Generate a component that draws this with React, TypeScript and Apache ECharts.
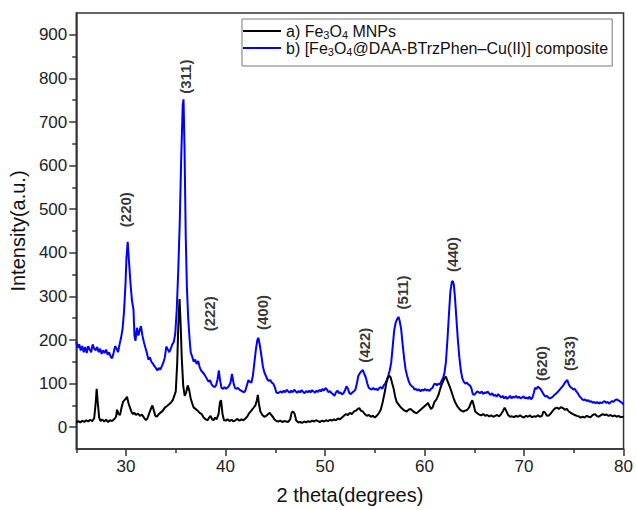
import React, { useEffect, useRef } from "react";
import * as echarts from "echarts";

const SERIES_A = "a) Fe3O4 MNPs";
const SERIES_B = "b) [Fe3O4@DAA-BTrzPhen–Cu(II)] composite";

const fe3o4: number[][] = [
  [25.0, 10], [25.2, 14], [25.4, 11], [25.6, 15], [25.8, 12], [26.0, 16], [26.2, 13], [26.4, 17], [26.6, 14], [26.8, 20],
  [26.95, 55], [27.05, 88], [27.15, 60], [27.3, 22], [27.45, 14], [27.6, 18], [27.8, 13], [28.0, 17], [28.2, 12], [28.4, 16],
  [28.6, 14], [28.8, 18], [29.0, 24], [29.1, 40], [29.25, 30], [29.4, 28], [29.55, 45], [29.7, 58], [29.85, 62], [30.0, 66],
  [30.1, 70], [30.25, 55], [30.4, 45], [30.55, 35], [30.7, 30], [30.85, 33], [31.0, 28], [31.2, 31], [31.4, 26], [31.6, 29],
  [31.8, 22], [32.0, 16], [32.15, 20], [32.3, 30], [32.5, 42], [32.65, 50], [32.8, 38], [32.95, 26], [33.1, 24], [33.3, 30],
  [33.5, 34], [33.7, 38], [33.9, 45], [34.1, 48], [34.3, 52], [34.5, 56], [34.7, 62], [34.85, 72], [35.0, 82], [35.15, 150],
  [35.25, 230], [35.38, 294], [35.5, 230], [35.6, 160], [35.75, 95], [35.9, 72], [36.05, 80], [36.2, 96], [36.35, 85], [36.5, 66],
  [36.65, 55], [36.8, 45], [37.0, 42], [37.2, 38], [37.4, 33], [37.6, 30], [37.8, 22], [38.0, 18], [38.2, 16], [38.35, 22],
  [38.5, 26], [38.65, 18], [38.8, 16], [38.95, 22], [39.1, 18], [39.3, 30], [39.45, 58], [39.55, 62], [39.7, 30], [39.85, 16],
  [40.0, 15], [40.2, 18], [40.4, 14], [40.6, 17], [40.8, 13], [41.0, 16], [41.2, 19], [41.4, 15], [41.6, 18], [41.8, 16],
  [42.0, 20], [42.2, 25], [42.4, 33], [42.6, 38], [42.8, 44], [43.0, 50], [43.15, 62], [43.25, 74], [43.35, 55], [43.5, 36],
  [43.7, 28], [43.9, 24], [44.1, 26], [44.3, 30], [44.45, 33], [44.6, 28], [44.75, 24], [44.9, 18], [45.1, 14], [45.3, 13],
  [45.5, 15], [45.7, 12], [45.9, 14], [46.1, 13], [46.3, 12], [46.5, 18], [46.65, 34], [46.8, 36], [46.95, 30], [47.1, 16],
  [47.3, 11], [47.5, 12], [47.7, 10], [47.9, 13], [48.1, 11], [48.3, 14], [48.5, 12], [48.7, 15], [48.9, 13], [49.1, 16],
  [49.3, 14], [49.5, 12], [49.7, 15], [49.9, 13], [50.1, 16], [50.3, 14], [50.5, 17], [50.7, 15], [50.9, 18], [51.1, 16],
  [51.3, 20], [51.5, 18], [51.7, 22], [51.9, 26], [52.1, 30], [52.3, 28], [52.5, 33], [52.7, 30], [52.9, 36], [53.1, 38],
  [53.3, 42], [53.45, 44], [53.6, 38], [53.8, 36], [54.0, 30], [54.2, 26], [54.4, 28], [54.6, 24], [54.8, 26], [55.0, 22],
  [55.2, 26], [55.4, 32], [55.6, 40], [55.8, 58], [56.0, 80], [56.15, 100], [56.3, 112], [56.45, 118], [56.6, 114], [56.75, 100],
  [56.9, 88], [57.05, 70], [57.2, 58], [57.4, 52], [57.6, 46], [57.8, 42], [58.0, 38], [58.2, 36], [58.4, 40], [58.6, 42],
  [58.8, 38], [59.0, 34], [59.2, 32], [59.4, 36], [59.6, 40], [59.8, 44], [60.0, 48], [60.2, 52], [60.35, 56], [60.5, 48],
  [60.65, 42], [60.8, 45], [61.0, 58], [61.2, 64], [61.4, 74], [61.6, 90], [61.8, 102], [62.0, 112], [62.15, 116], [62.3, 106],
  [62.5, 95], [62.7, 82], [62.9, 68], [63.1, 56], [63.3, 48], [63.5, 42], [63.7, 38], [63.9, 36], [64.1, 38], [64.3, 40],
  [64.5, 46], [64.65, 55], [64.8, 62], [64.95, 50], [65.1, 36], [65.3, 32], [65.5, 29], [65.7, 27], [65.9, 30], [66.1, 26],
  [66.3, 28], [66.5, 25], [66.7, 27], [66.9, 24], [67.1, 26], [67.3, 28], [67.5, 25], [67.7, 30], [67.9, 38], [68.05, 45],
  [68.2, 38], [68.4, 28], [68.6, 24], [68.8, 25], [69.0, 23], [69.2, 26], [69.4, 24], [69.6, 27], [69.8, 24], [70.0, 22],
  [70.2, 26], [70.4, 24], [70.6, 27], [70.8, 23], [71.0, 25], [71.2, 24], [71.4, 27], [71.6, 24], [71.8, 26], [71.95, 36],
  [72.1, 34], [72.3, 26], [72.5, 27], [72.7, 32], [72.9, 38], [73.1, 43], [73.3, 45], [73.5, 42], [73.7, 46], [73.9, 44],
  [74.1, 40], [74.3, 42], [74.5, 36], [74.7, 33], [74.9, 30], [75.1, 28], [75.3, 26], [75.5, 25], [75.7, 22], [75.9, 24],
  [76.1, 22], [76.3, 26], [76.5, 24], [76.7, 23], [76.9, 28], [77.1, 30], [77.3, 26], [77.5, 24], [77.7, 27], [77.9, 30],
  [78.1, 28], [78.3, 29], [78.5, 26], [78.7, 28], [78.9, 25], [79.1, 27], [79.3, 24], [79.5, 26], [79.7, 23], [80.0, 24],
];

const composite: number[][] = [
  [25.0, 196], [25.15, 182], [25.3, 190], [25.45, 176], [25.6, 186], [25.75, 172], [25.9, 184], [26.05, 170], [26.2, 186], [26.35, 178],
  [26.5, 172], [26.65, 190], [26.8, 180], [26.95, 176], [27.1, 184], [27.25, 172], [27.4, 180], [27.55, 168], [27.7, 176], [27.85, 170],
  [28.0, 178], [28.15, 166], [28.3, 172], [28.45, 162], [28.6, 158], [28.75, 170], [28.9, 186], [29.05, 180], [29.2, 172], [29.35, 190],
  [29.5, 205], [29.65, 225], [29.8, 265], [29.95, 330], [30.05, 390], [30.17, 425], [30.3, 380], [30.45, 330], [30.6, 290], [30.75, 270],
  [30.85, 210], [30.95, 198], [31.1, 228], [31.25, 210], [31.4, 225], [31.5, 232], [31.65, 210], [31.8, 195], [31.95, 182], [32.1, 170],
  [32.25, 155], [32.4, 160], [32.55, 150], [32.7, 146], [32.85, 140], [33.0, 136], [33.15, 130], [33.3, 136], [33.45, 132], [33.6, 140],
  [33.75, 148], [33.9, 160], [34.05, 185], [34.2, 178], [34.35, 172], [34.5, 180], [34.65, 190], [34.8, 195], [34.95, 215], [35.1, 270],
  [35.25, 360], [35.4, 470], [35.55, 620], [35.7, 740], [35.78, 752], [35.88, 640], [36.0, 440], [36.12, 320], [36.25, 250], [36.38, 205],
  [36.5, 172], [36.65, 162], [36.8, 150], [36.95, 155], [37.1, 145], [37.25, 152], [37.4, 138], [37.55, 130], [37.7, 126], [37.85, 122],
  [38.0, 116], [38.15, 110], [38.3, 104], [38.45, 108], [38.6, 98], [38.75, 94], [38.9, 92], [39.05, 96], [39.2, 110], [39.33, 130],
  [39.45, 108], [39.6, 90], [39.75, 88], [39.9, 92], [40.05, 88], [40.2, 91], [40.35, 95], [40.5, 102], [40.65, 122], [40.8, 102],
  [40.95, 90], [41.1, 88], [41.25, 90], [41.4, 86], [41.55, 84], [41.7, 82], [41.85, 80], [42.0, 84], [42.15, 96], [42.3, 108],
  [42.45, 104], [42.6, 102], [42.75, 118], [42.9, 148], [43.05, 178], [43.2, 200], [43.3, 205], [43.45, 188], [43.6, 165], [43.75, 140],
  [43.9, 126], [44.05, 118], [44.2, 110], [44.35, 106], [44.5, 108], [44.65, 102], [44.8, 100], [44.95, 92], [45.1, 80], [45.25, 78],
  [45.4, 80], [45.55, 82], [45.7, 79], [45.85, 84], [46.0, 80], [46.15, 86], [46.3, 82], [46.45, 79], [46.6, 84], [46.75, 80],
  [46.9, 86], [47.05, 82], [47.2, 79], [47.35, 83], [47.5, 80], [47.65, 85], [47.8, 81], [47.95, 78], [48.1, 83], [48.25, 80],
  [48.4, 84], [48.55, 80], [48.7, 85], [48.85, 82], [49.0, 79], [49.15, 84], [49.3, 81], [49.45, 86], [49.6, 82], [49.75, 88],
  [49.9, 84], [50.05, 90], [50.2, 86], [50.35, 80], [50.5, 83], [50.65, 78], [50.8, 76], [50.95, 72], [51.1, 80], [51.25, 84],
  [51.4, 78], [51.55, 80], [51.7, 75], [51.85, 78], [52.0, 84], [52.15, 94], [52.3, 88], [52.45, 78], [52.6, 76], [52.75, 80],
  [52.9, 82], [53.05, 86], [53.2, 100], [53.35, 118], [53.5, 124], [53.65, 128], [53.8, 131], [53.95, 122], [54.1, 114], [54.25, 100],
  [54.4, 90], [54.55, 88], [54.7, 86], [54.85, 90], [55.0, 86], [55.15, 88], [55.3, 85], [55.45, 90], [55.6, 92], [55.75, 88],
  [55.9, 96], [56.05, 100], [56.2, 108], [56.35, 118], [56.5, 130], [56.65, 148], [56.8, 185], [56.95, 222], [57.1, 240], [57.25, 248],
  [57.38, 253], [57.5, 244], [57.65, 225], [57.8, 190], [57.95, 158], [58.1, 132], [58.25, 118], [58.4, 106], [58.55, 98], [58.7, 94],
  [58.85, 92], [59.0, 86], [59.15, 88], [59.3, 84], [59.45, 87], [59.6, 82], [59.75, 86], [59.9, 84], [60.05, 88], [60.2, 84],
  [60.35, 86], [60.5, 83], [60.65, 88], [60.8, 90], [60.95, 98], [61.1, 100], [61.25, 96], [61.4, 100], [61.55, 98], [61.7, 106],
  [61.85, 112], [62.0, 124], [62.15, 150], [62.3, 200], [62.45, 258], [62.6, 312], [62.75, 334], [62.85, 335], [62.95, 326], [63.05, 300],
  [63.2, 250], [63.35, 200], [63.5, 160], [63.65, 130], [63.8, 112], [63.95, 104], [64.1, 100], [64.25, 102], [64.4, 98], [64.55, 96],
  [64.7, 90], [64.85, 76], [65.0, 74], [65.15, 78], [65.3, 82], [65.45, 80], [65.6, 78], [65.75, 82], [65.9, 76], [66.05, 80],
  [66.2, 78], [66.35, 82], [66.5, 77], [66.65, 74], [66.8, 78], [66.95, 72], [67.1, 74], [67.25, 70], [67.4, 76], [67.55, 72],
  [67.7, 68], [67.85, 72], [68.0, 66], [68.15, 70], [68.3, 65], [68.45, 68], [68.6, 72], [68.75, 66], [68.9, 70], [69.05, 68],
  [69.2, 72], [69.35, 67], [69.5, 70], [69.65, 66], [69.8, 68], [69.95, 71], [70.1, 66], [70.25, 68], [70.4, 65], [70.55, 70],
  [70.7, 64], [70.85, 68], [71.0, 80], [71.1, 90], [71.25, 88], [71.4, 93], [71.55, 90], [71.7, 86], [71.85, 80], [72.0, 74],
  [72.15, 70], [72.3, 72], [72.45, 68], [72.6, 66], [72.75, 68], [72.9, 70], [73.05, 74], [73.2, 77], [73.35, 80], [73.5, 84],
  [73.65, 88], [73.8, 92], [73.95, 96], [74.1, 102], [74.25, 106], [74.35, 108], [74.5, 98], [74.65, 92], [74.8, 90], [74.95, 86],
  [75.1, 88], [75.25, 82], [75.4, 78], [75.55, 72], [75.7, 68], [75.85, 64], [76.0, 62], [76.15, 64], [76.3, 60], [76.45, 62],
  [76.6, 58], [76.75, 60], [76.9, 56], [77.05, 58], [77.2, 55], [77.35, 58], [77.5, 54], [77.65, 57], [77.8, 55], [77.95, 58],
  [78.1, 60], [78.25, 56], [78.4, 58], [78.55, 54], [78.7, 57], [78.85, 60], [79.0, 58], [79.15, 62], [79.3, 64], [79.45, 62],
  [79.6, 60], [79.75, 57], [79.9, 55], [80.0, 52],
];

const peakLabels = ["(220)", "(311)", "(222)", "(400)", "(422)", "(511)", "(440)", "(620)", "(533)"];
const peakLabelX = [29.95, 35.95, 38.35, 43.7, 53.95, 57.75, 62.85, 71.8, 74.6];
const peakLabelY = [499, 804, 260, 263, 188, 309, 396, 146, 169];

const yMajorTicks = [0, 100, 200, 300, 400, 500, 600, 700, 800, 900];
const yMinorTicks = [50, 150, 250, 350, 450, 550, 650, 750, 850];
const xMajorTicks = [30, 40, 50, 60, 70, 80];
const xMinorTicks = [25, 35, 45, 55, 65, 75];

const FONT = "'Liberation Sans', Arial, Helvetica, sans-serif";
const AXIS_COLOR = "#333";

export default function App() {
  const ref = useRef<HTMLDivElement>(null);
  useEffect(() => {
    if (!ref.current) return;
    const chart = echarts.init(ref.current, null, { renderer: "svg" });
    const legendRich = {
      t: { fontSize: 16, fontFamily: FONT, color: "#111", lineHeight: 18 },
      s: { fontSize: 11, fontFamily: FONT, color: "#111", lineHeight: 8, verticalAlign: "bottom" },
    };
    const tickStyle = { color: AXIS_COLOR, width: 1.5 };
    const option: any = {
      animation: false,
      textStyle: { fontFamily: FONT },
      grid: {
        left: 72, right: 9, top: 13, bottom: 59,
        show: true, borderColor: AXIS_COLOR, borderWidth: 1.5, backgroundColor: "transparent",
      },
      legend: {
        left: 242, top: 19, orient: "vertical",
        padding: [4, 4, 9, 1], itemGap: 0,
        itemWidth: 38, itemHeight: 2,
        borderColor: "#777", borderWidth: 1, backgroundColor: "#fff",
        data: [
          { name: SERIES_A, icon: "rect" },
          { name: SERIES_B, icon: "rect" },
        ],
        textStyle: { rich: legendRich, fontSize: 16, fontFamily: FONT, color: "#111" },
        formatter: (name: string) =>
          name === SERIES_A
            ? "{t|a) Fe}{s|3}{t|O}{s|4}{t| MNPs}"
            : "{t|b) [Fe}{s|3}{t|O}{s|4}{t|@DAA-BTrzPhen–Cu(II)] composite}",
      },
      xAxis: [
        {
          type: "value", min: 25, max: 80, position: "bottom",
          name: "2 theta(degrees)", nameLocation: "middle", nameGap: 36,
          nameTextStyle: { fontSize: 20, color: "#111", fontFamily: FONT },
          axisLine: { show: true, onZero: false, lineStyle: { color: AXIS_COLOR, width: 1.5 } },
          axisTick: { show: true, inside: false, length: 7, customValues: xMajorTicks, lineStyle: tickStyle },
          axisLabel: { customValues: xMajorTicks, fontSize: 17, color: "#222", margin: 9, fontFamily: FONT },
          splitLine: { show: false },
        },
        {
          type: "value", min: 25, max: 80, position: "bottom",
          axisLine: { show: false, onZero: false },
          axisTick: { show: true, inside: false, length: 4, customValues: xMinorTicks, lineStyle: tickStyle },
          axisLabel: { show: false },
          splitLine: { show: false },
        },
      ],
      yAxis: [
        {
          type: "value", min: -50, max: 950, position: "left",
          name: "Intensity(a.u.)", nameLocation: "middle", nameGap: 44,
          nameTextStyle: { fontSize: 20, color: "#111", fontFamily: FONT },
          axisLine: { show: true, onZero: false, lineStyle: { color: AXIS_COLOR, width: 1.5 } },
          axisTick: { show: true, inside: false, length: 7, customValues: yMajorTicks, lineStyle: tickStyle },
          axisLabel: { customValues: yMajorTicks, fontSize: 17, color: "#222", margin: 9, fontFamily: FONT },
          splitLine: { show: false },
        },
        {
          type: "value", min: -50, max: 950, position: "left",
          axisLine: { show: false, onZero: false },
          axisTick: { show: true, inside: false, length: 4, customValues: yMinorTicks, lineStyle: tickStyle },
          axisLabel: { show: false },
          splitLine: { show: false },
        },
      ],
      series: [
        {
          name: SERIES_B, type: "line", data: composite,
          showSymbol: false, symbol: "none",
          lineStyle: { color: "#0000ff", width: 2 }, itemStyle: { color: "#0000ff" },
          z: 2,
        },
        {
          name: SERIES_A, type: "line", data: fe3o4,
          showSymbol: false, symbol: "none",
          lineStyle: { color: "#000", width: 2 }, itemStyle: { color: "#000" },
          z: 3,
        },
        {
          name: "peaks", type: "scatter", symbolSize: 0, silent: true, z: 5,
          data: peakLabels.map((t, i) => [peakLabelX[i], peakLabelY[i], t]),
          label: {
            show: true, position: "inside", rotate: 90,
            formatter: (p: any) => p.data[2],
            fontSize: 15, fontWeight: "bold", color: "#000", fontFamily: FONT,
            textBorderWidth: 0, textBorderColor: "transparent",
          },
        },
      ],
    };
    chart.setOption(option);
    return () => chart.dispose();
  }, []);
  return (
    <div
      ref={ref}
      style={{ position: "fixed", left: 0, top: 0, width: 636, height: 510, background: "#fff" }}
    />
  );
}
